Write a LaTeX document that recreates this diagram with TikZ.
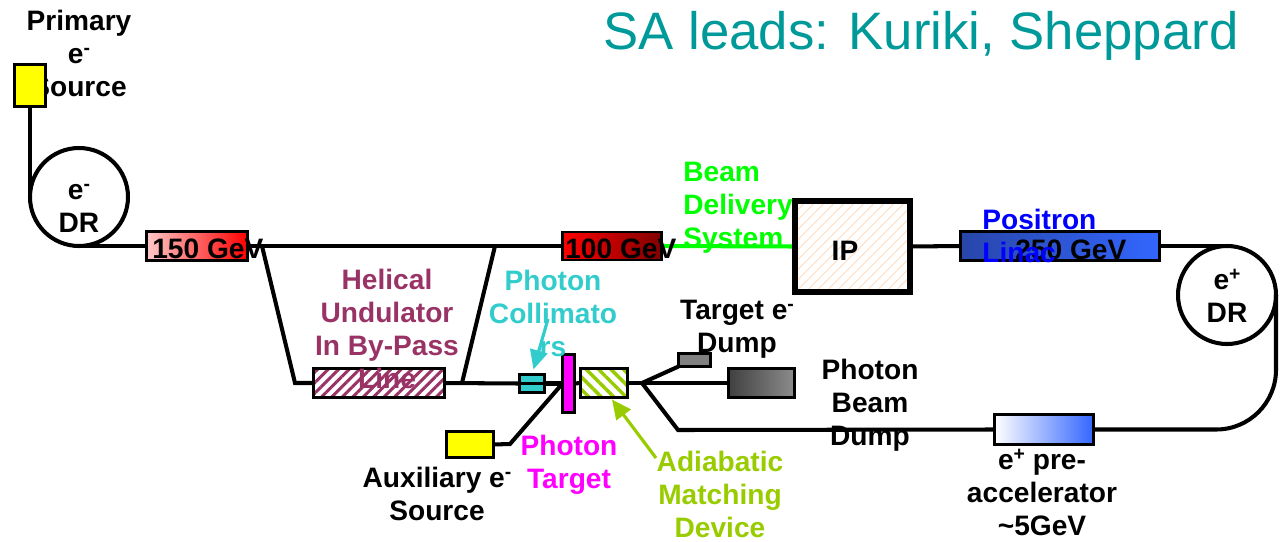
\documentclass[tikz,border=0pt]{standalone}
\usepackage{fontspec}
\setmainfont{Liberation Sans}
\usetikzlibrary{arrows.meta,patterns.meta,calc,backgrounds}
\newcommand\pxu{0.02cm}
\newcommand\supsign[1]{\raisebox{0.6ex}{\fontsize{11}{11}\selectfont #1}}
\definecolor{titleteal}{RGB}{0,153,153}
\definecolor{maroonu}{RGB}{153,51,102}
\definecolor{tealc}{RGB}{51,204,204}
\definecolor{magc}{RGB}{255,0,255}
\definecolor{ygc}{RGB}{153,204,0}
\definecolor{bdsg}{RGB}{0,255,0}
\definecolor{posb}{RGB}{0,0,255}
\definecolor{pinkc}{RGB}{255,200,200}
\definecolor{redc}{RGB}{255,0,0}
\definecolor{dredc}{RGB}{128,0,0}
\definecolor{dbluec}{RGB}{40,70,170}
\definecolor{lbluec}{RGB}{51,102,255}
\definecolor{iporc}{RGB}{255,215,180}
\definecolor{yelc}{RGB}{255,255,0}
\definecolor{dgrayc}{RGB}{64,64,64}
\definecolor{mgrayc}{RGB}{140,140,140}
\definecolor{grayc}{RGB}{128,128,128}
\begin{document}
\begin{tikzpicture}[x=0.02cm,y=-0.02cm,
  beam/.style={line width=2.3pt},
  box/.style={draw, line width=1.7pt, inner sep=0, outer sep=0, rectangle},
  lbl/.style={font=\bfseries\fontsize{16}{18.7}\selectfont, inner sep=0, align=center, anchor=base},
  lbll/.style={lbl, align=left, anchor=base west},
  ring/.style={draw, circle, line width=2.3pt, minimum size=98*\pxu, inner sep=0, outer sep=0},
  arr/.style={line width=1.8pt, -{Triangle[length=11pt,width=10pt]}},
  ]
\useasboundingbox (0,0) rectangle (1281,541);

% label partly hidden by the source box
\node[lbl] (plabel) at (79,96) {Primary\\e\supsign{-}\\Source};

% boxes
\node[box, fill=yelc, minimum width=31*\pxu, minimum height=42*\pxu] (psrc) at (30,85.5) {};
\node[ring] (edr) at (79,197) {};
\node[box, left color=pinkc, right color=redc, minimum width=101*\pxu, minimum height=29*\pxu] (b150) at (197,246) {};
\node[box, pattern={Lines[angle=45,distance=4.2pt,line width=1.7pt]}, pattern color=maroonu, minimum width=131*\pxu, minimum height=29*\pxu] (und) at (379,383) {};
\node[box, fill=tealc, minimum width=25*\pxu, minimum height=18*\pxu] (coll) at (532,383.5) {};
\node[box, fill=magc, minimum width=12*\pxu, minimum height=58*\pxu] (tgt) at (568.5,383.5) {};
\node[box, pattern={Lines[angle=-45,distance=5pt,line width=2pt]}, pattern color=ygc, minimum width=47*\pxu, minimum height=29*\pxu] (amd) at (604,383) {};
\node[box, fill=grayc, minimum width=32*\pxu, minimum height=13*\pxu] (edump) at (694.5,360) {};
\node[box, left color=dgrayc, right color=mgrayc, minimum width=66*\pxu, minimum height=29*\pxu] (pdump) at (761.5,383) {};
\node[box, fill=yelc, minimum width=47*\pxu, minimum height=26*\pxu] (aux) at (470,444.5) {};
\node[box, left color=redc, right color=dredc, minimum width=99*\pxu, minimum height=28*\pxu] (b100) at (612,246) {};
\node[box, line width=3.4pt, pattern={Lines[angle=45,distance=4pt,line width=0.5pt]}, pattern color=iporc, minimum width=115*\pxu, minimum height=91*\pxu] (ip) at (852.5,246.5) {};
\node[box, left color=dbluec, right color=lbluec, minimum width=199*\pxu, minimum height=29*\pxu] (b250) at (1060,246) {};
\node[ring] (pdr) at (1227,295) {};
\node[box, left color=white, right color=lbluec, minimum width=99*\pxu, minimum height=30*\pxu] (pre) at (1044,429.5) {};

\coordinate (bpin) at (262,246);
\coordinate (bpout) at (495,246);
\coordinate (split) at (642,383);
\coordinate (carr) at (548,319);
\coordinate (garr) at (656,458);

% connectors
\begin{pgfonlayer}{background}
\draw[beam] (psrc.south) -- (edr.west);
\draw[beam] (edr.south) -- (b150.west);
\draw[beam] (b150.east) -- (b100.west);
\draw[beam, bdsg] (b100.east) -- (ip.west);
\draw[beam] (ip.east) -- (b250.west);
\draw[beam] (b250.east) -- (pdr.north);
\draw[beam, rounded corners=34pt] (pdr.east) |- (pre.east);
\draw[beam] (bpin) -- (295,383) -- (und.west);
\draw[beam] (bpout) -- (462,383);
\draw[beam] (und.east) -- (coll.west);
\draw[beam] (coll.east) -- (tgt.west);
\draw[beam] (tgt.east) -- (amd.west);
\draw[beam] (amd.east) -- (split);
\draw[beam] (split) -- (edump.south west);
\draw[beam] (split) -- (pdump.west);
\draw[beam] (split) -- (678,430) -- (pre.west);
\draw[beam] (aux.east) -- (510,444) -- (tgt.west);
\end{pgfonlayer}
\draw[line width=1.7pt] (coll.west) -- (coll.east);

% arrows
\draw[arr, tealc, shorten >=3pt] (carr) -- (coll.north);
\draw[arr, ygc] (garr) -- ($(amd.south)+(8,2)$);

% texts
\node[font=\fontsize{30}{36}\selectfont, text=titleteal, inner sep=0, anchor=base] (title) at (921,50) {SA leads: Kuriki, Sheppard};
\node[lbl] (edrt) at (79,232) {e\supsign{-}\\DR};
\node[lbl] (pdrt) at (1227,322) {e\supsign{+}\\DR};
\node[lbll] (t150) at (152,258) {150 GeV};
\node[lbll] (t100) at (565,258) {100 GeV};
\node[lbll] (t250) at (1015,259) {250 GeV};
\node[lbl] (tip) at (845,260) {IP};
\node[lbl, text=maroonu] (thel) at (387,388) {Helical\\Undulator\\In By-Pass\\Line};
\node[lbl, text=tealc] (tcol) at (553,356) {Photon\\Collimato\\rs};
\node[lbl, text=magc] (ttgt) at (569,488) {Photon\\Target};
\node[lbl] (taux) at (437,520) {Auxiliary e\supsign{-}\\Source};
\node[lbl, text=ygc] (tamd) at (720,537) {Adiabatic\\Matching\\Device};
\node[lbl] (tedump) at (737,352) {Target e\supsign{-}\\Dump};
\node[lbl] (tpdump) at (870,445) {Photon\\Beam\\Dump};
\node[lbll, text=bdsg] (tbds) at (683,247) {Beam\\Delivery\\System};
\node[lbll, text=posb] (tpos) at (982,262) {Positron\\Linac};
\node[lbl] (tpre) at (1042,535) {e\supsign{+} pre-\\accelerator\\\textasciitilde5GeV};
\end{tikzpicture}
\end{document}
